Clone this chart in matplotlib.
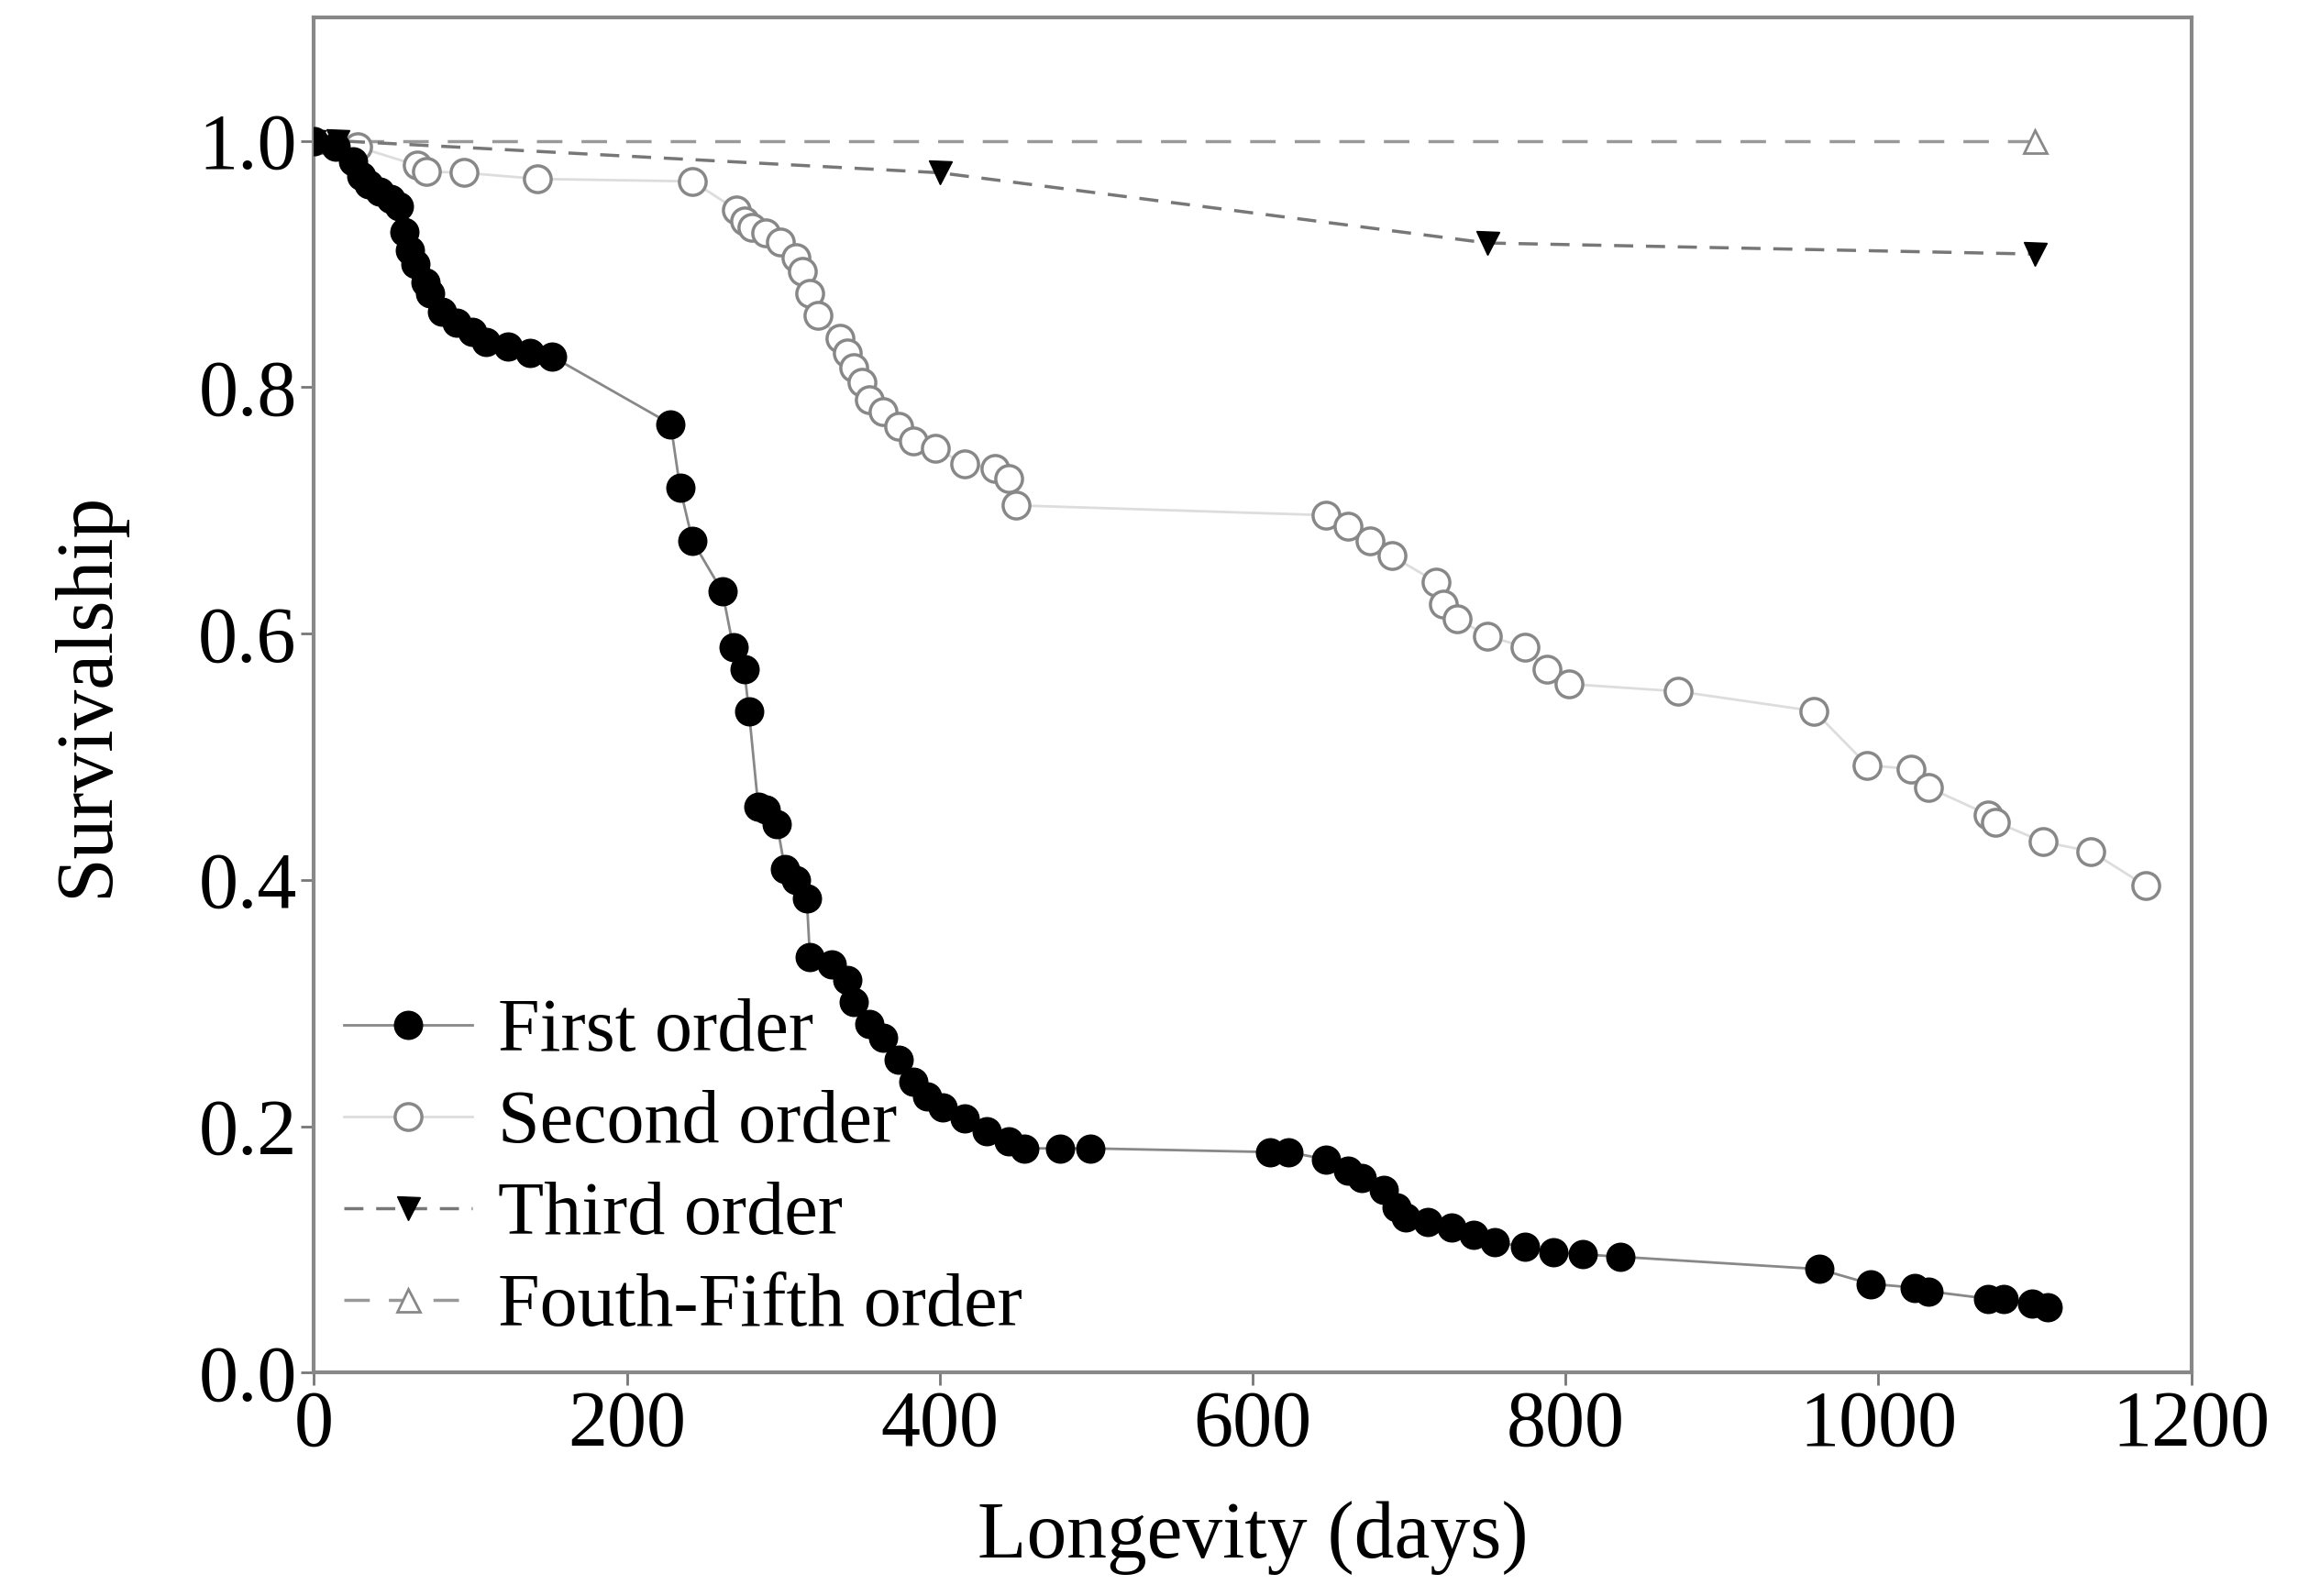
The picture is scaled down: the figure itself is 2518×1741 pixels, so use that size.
import matplotlib
matplotlib.use("Agg")
import matplotlib.pyplot as plt

# Kaplan-Meier style survivorship
first_days = [0, 14, 25, 30, 35, 42, 49, 54, 58, 61, 65, 71, 74, 82, 91, 101, 110, 124, 138, 152,
              228, 234, 242, 261, 268, 275, 278, 284, 289, 296, 301, 308, 315, 317, 331, 341, 345,
              355, 364, 374, 383, 392, 402, 416, 430, 444, 454, 477, 496, 611, 623, 647, 661, 670,
              684, 692, 698, 712, 727, 741, 755, 774, 792, 811, 835, 962, 995, 1023, 1032, 1070,
              1080, 1098, 1108]
first_surv = [1.0, 0.995, 0.983, 0.971, 0.965, 0.959, 0.953, 0.947, 0.926, 0.911, 0.9, 0.885, 0.876,
              0.861, 0.852, 0.845, 0.837, 0.833, 0.828, 0.825, 0.77, 0.718, 0.675, 0.634, 0.589,
              0.571, 0.537, 0.459, 0.457, 0.445, 0.409, 0.4, 0.385, 0.337, 0.331, 0.319, 0.301,
              0.283, 0.272, 0.254, 0.236, 0.224, 0.215, 0.206, 0.196, 0.188, 0.182, 0.182, 0.182,
              0.179, 0.179, 0.173, 0.164, 0.158, 0.148, 0.134, 0.126, 0.122, 0.118, 0.112, 0.106,
              0.102, 0.098, 0.096, 0.094, 0.084, 0.072, 0.069, 0.066, 0.06, 0.06, 0.056, 0.053]

second_days = [0, 28, 66, 72, 96, 143, 242, 270, 275, 280, 289, 298, 308, 312, 317, 322, 336, 341,
               345, 350, 355, 364, 374, 383, 397, 416, 435, 444, 449, 647, 661, 675, 689, 717, 722,
               731, 750, 774, 788, 802, 872, 959, 993, 1021, 1032, 1070, 1075, 1105, 1136, 1171]
second_surv = [1.0, 0.995, 0.98, 0.975, 0.974, 0.969, 0.967, 0.944, 0.935, 0.93, 0.925, 0.918,
               0.905, 0.894, 0.876, 0.858, 0.84, 0.828, 0.816, 0.804, 0.79, 0.78, 0.768, 0.756,
               0.75, 0.738, 0.734, 0.726, 0.704, 0.696, 0.687, 0.675, 0.663, 0.642, 0.624, 0.612,
               0.598, 0.589, 0.571, 0.559, 0.553, 0.537, 0.493, 0.49, 0.475, 0.453, 0.447, 0.431,
               0.423, 0.395]

third_days = [0, 15, 400, 750, 1100]
third_surv = [1.0, 1.0, 0.974, 0.917, 0.908]

fourth_days = [0, 1100]
fourth_surv = [1.0, 1.0]

plt.rcParams['font.family'] = ['Liberation Serif', 'DejaVu Serif']

fig = plt.figure(figsize=(25.18, 17.41), dpi=100)
ax = fig.add_axes([0.136, 0.140, 0.813, 0.849])

ax.plot(first_days, first_surv, '-', color='#888888', lw=2,
        marker='o', ms=22, mfc='black', mec='black', label='First order', zorder=4)
ax.plot(second_days, second_surv, '-', color='#dddddd', lw=2,
        marker='o', ms=21, mfc='white', mec='#888888', mew=2.5, label='Second order', zorder=3)
ax.plot(third_days, third_surv, '--', color='#777777', lw=2.5, dashes=(6, 4),
        marker='v', ms=18, mfc='black', mec='black', label='Third order', zorder=3)
ax.plot(fourth_days, fourth_surv, '--', color='#999999', lw=2.5, dashes=(8, 6),
        marker='^', ms=18, mfc='white', mec='#888888', mew=2, label='Fouth-Fifth order', zorder=2)

ax.set_xlim(0, 1200)
ax.set_ylim(0, 1.1)
ax.set_xticks([0, 200, 400, 600, 800, 1000, 1200])
ax.set_yticks([0.0, 0.2, 0.4, 0.6, 0.8, 1.0])
ax.set_yticklabels(['0.0', '0.2', '0.4', '0.6', '0.8', '1.0'])
ax.tick_params(labelsize=62, length=10, width=2, color='#777777', direction='out')
for s in ax.spines.values():
    s.set_color('#888888')
    s.set_linewidth(3)

ax.set_xlabel('Longevity (days)', fontsize=63, labelpad=30)
ax.set_ylabel('Survivalship', fontsize=63, labelpad=58)

ax.legend(loc='lower left', bbox_to_anchor=(0.0, 0.0), frameon=False, fontsize=59,
          handlelength=1.7, handletextpad=0.35, labelspacing=0.3, borderaxespad=0.1,
          borderpad=0.3)

fig.savefig('out.png', dpi=100, facecolor='white')
